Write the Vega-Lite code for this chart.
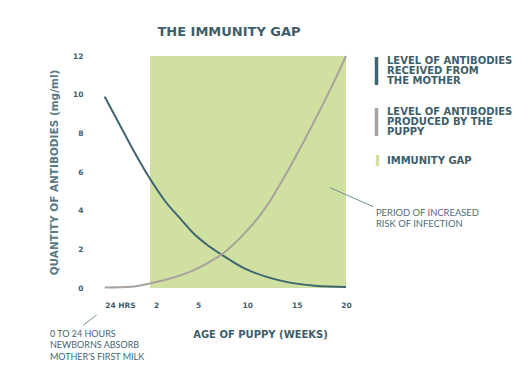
{
  "$schema": "https://vega.github.io/schema/vega-lite/v6.json",
  "width": 250,
  "height": 232,
  "autosize": {"type": "none"},
  "padding": {"left": 100, "top": 56, "right": 180, "bottom": 88},
  "background": "white",
  "title": {
    "text": "THE IMMUNITY GAP",
    "font": "DejaVu Sans",
    "fontSize": 13,
    "fontWeight": "bold",
    "color": "#3e5e69",
    "anchor": "middle",
    "offset": 13,
    "dx": 4
  },
  "config": {
    "view": {"stroke": null},
    "axis": {
      "grid": false,
      "domain": false,
      "ticks": false,
      "labelOverlap": false,
      "labelFont": "DejaVu Sans",
      "labelFontWeight": "bold",
      "labelFontSize": 7.5,
      "labelColor": "#3e5e69",
      "titleFont": "DejaVu Sans",
      "titleFontWeight": "bold",
      "titleFontSize": 10,
      "titleColor": "#5b7a85"
    }
  },
  "datasets": {
    "curves": [
      {"series": "mother", "weeks": 0.14, "antibodies": 9.9},
      {"series": "mother", "weeks": 0.69, "antibodies": 8.6},
      {"series": "mother", "weeks": 1.22, "antibodies": 7.35},
      {"series": "mother", "weeks": 2.0, "antibodies": 5.65},
      {"series": "mother", "weeks": 2.94, "antibodies": 4.5},
      {"series": "mother", "weeks": 3.88, "antibodies": 3.6},
      {"series": "mother", "weeks": 4.81, "antibodies": 2.75},
      {"series": "mother", "weeks": 6.01, "antibodies": 2.2},
      {"series": "mother", "weeks": 7.38, "antibodies": 1.73},
      {"series": "mother", "weeks": 9.76, "antibodies": 1.0},
      {"series": "mother", "weeks": 11.79, "antibodies": 0.6},
      {"series": "mother", "weeks": 13.82, "antibodies": 0.33},
      {"series": "mother", "weeks": 16.86, "antibodies": 0.12},
      {"series": "mother", "weeks": 20.0, "antibodies": 0.05},
      {"series": "puppy", "weeks": 0.14, "antibodies": 0.02},
      {"series": "puppy", "weeks": 1.22, "antibodies": 0.06},
      {"series": "puppy", "weeks": 2.06, "antibodies": 0.25},
      {"series": "puppy", "weeks": 3.31, "antibodies": 0.5},
      {"series": "puppy", "weeks": 4.81, "antibodies": 0.95},
      {"series": "puppy", "weeks": 6.01, "antibodies": 1.3},
      {"series": "puppy", "weeks": 7.38, "antibodies": 1.73},
      {"series": "puppy", "weeks": 9.76, "antibodies": 2.85},
      {"series": "puppy", "weeks": 11.49, "antibodies": 3.9},
      {"series": "puppy", "weeks": 12.3, "antibodies": 4.5},
      {"series": "puppy", "weeks": 13.92, "antibodies": 5.9},
      {"series": "puppy", "weeks": 15.64, "antibodies": 7.5},
      {"series": "puppy", "weeks": 17.36, "antibodies": 9.2},
      {"series": "puppy", "weeks": 19.09, "antibodies": 11.0},
      {"series": "puppy", "weeks": 20.0, "antibodies": 12.0}
    ],
    "gap": [
      {"phase": "IMMUNITY GAP", "from_week": 2, "to_week": 20, "low": 0, "high": 12}
    ]
  },
  "layer": [
    {
      "data": {"name": "gap"},
      "mark": {"type": "rect", "clip": false},
      "encoding": {
        "x": {
          "field": "from_week",
          "type": "quantitative",
          "title": "AGE OF PUPPY (WEEKS)",
          "scale": {"domain": [0.14, 2, 5, 20], "range": [4.7, 50, 98, 246], "nice": false, "zero": false},
          "axis": {
            "values": [0.14, 2, 5, 10, 15, 20],
            "tickCount": 12,
            "labelExpr": "datum.value < 1 ? '24 HRS' : datum.label",
            "labelAlign": {"condition": {"test": "datum.value < 1", "value": "left"}, "value": "center"},
            "labelOffset": {"condition": {"test": "datum.value == 2", "value": 6}, "value": 0},
            "labelPadding": 13,
            "titlePadding": 21,
            "titleX": 160,
            "titleColor": "#3e5e69"
          }
        },
        "x2": {"field": "to_week"},
        "y": {
          "field": "low",
          "type": "quantitative",
          "title": "QUANTITY OF ANTIBODIES (mg/ml)",
          "scale": {"domain": [0, 12], "nice": false},
          "axis": {"values": [0, 2, 4, 6, 8, 10, 12], "tickCount": 12, "labelPadding": 17, "titlePadding": 13, "labelOverlap": false, "titleFontSize": 10.5}
        },
        "y2": {"field": "high"},
        "fill": {
          "field": "phase",
          "type": "nominal",
          "scale": {"range": ["#cfe0a1"]},
          "legend": {
            "orient": "none",
            "legendX": 272,
            "legendY": 99,
            "title": null,
            "symbolType": "M-0.3,-1H0.3V1H-0.3Z",
            "symbolSize": 121,
            "symbolStrokeWidth": 0,
            "labelOffset": 4,
            "labelFont": "DejaVu Sans",
            "labelFontWeight": "bold",
            "labelFontSize": 10,
            "labelColor": "#3e5e69",
            "labelLimit": 300
          }
        }
      }
    },
    {
      "data": {"name": "curves"},
      "mark": {"type": "line", "interpolate": "monotone", "strokeWidth": 2, "clip": false},
      "encoding": {
        "x": {
          "field": "weeks",
          "type": "quantitative",
          "title": "AGE OF PUPPY (WEEKS)",
          "scale": {"domain": [0.14, 2, 5, 20], "range": [4.7, 50, 98, 246], "nice": false, "zero": false},
          "axis": {
            "values": [0.14, 2, 5, 10, 15, 20],
            "tickCount": 12,
            "labelExpr": "datum.value < 1 ? '24 HRS' : datum.label",
            "labelAlign": {"condition": {"test": "datum.value < 1", "value": "left"}, "value": "center"},
            "labelOffset": {"condition": {"test": "datum.value == 2", "value": 6}, "value": 0},
            "labelPadding": 13,
            "titlePadding": 21,
            "titleX": 160,
            "titleColor": "#3e5e69"
          }
        },
        "y": {
          "field": "antibodies",
          "type": "quantitative",
          "title": "QUANTITY OF ANTIBODIES (mg/ml)",
          "scale": {"domain": [0, 12], "nice": false},
          "axis": {"values": [0, 2, 4, 6, 8, 10, 12], "tickCount": 12, "labelPadding": 17, "titlePadding": 13, "labelOverlap": false, "titleFontSize": 10.5}
        },
        "stroke": {
          "field": "series",
          "type": "nominal",
          "scale": {"domain": ["mother", "puppy"], "range": ["#3f6670", "#a9a19b"]},
          "legend": {
            "orient": "none",
            "legendX": 260.5,
            "legendY": -1,
            "title": null,
            "symbolType": "M0,-1L0,1",
            "symbolSize": 784,
            "symbolStrokeWidth": 3.5,
            "labelOffset": -5.5,
            "rowPadding": 9,
            "labelExpr": "datum.value == 'mother' ? ['LEVEL OF ANTIBODIES', 'RECEIVED FROM', 'THE MOTHER'] : ['LEVEL OF ANTIBODIES', 'PRODUCED BY THE', 'PUPPY']",
            "labelFont": "DejaVu Sans",
            "labelFontWeight": "bold",
            "labelFontSize": 10,
            "labelColor": "#3e5e69",
            "labelLimit": 300,
            "encode": {"labels": {"update": {"lineHeight": {"value": 10}, "dy": {"value": -10}}}}
          }
        }
      }
    },
    {
      "data": {"values": [{}]},
      "mark": {"type": "rule", "clip": false, "color": "#6f9098", "strokeWidth": 1},
      "encoding": {
        "x": {"datum": 18.38, "type": "quantitative"},
        "x2": {"datum": 22.74},
        "y": {"datum": 5.19, "type": "quantitative"},
        "y2": {"datum": 4.21}
      }
    },
    {
      "data": {"values": [{}]},
      "mark": {"type": "text", "clip": false, "align": "left", "baseline": "top", "font": "Lato", "fontSize": 9.4, "color": "#4e6d77", "lineHeight": 11},
      "encoding": {
        "x": {"datum": 23.04, "type": "quantitative"},
        "y": {"datum": 4.1, "type": "quantitative"},
        "text": {"value": ["PERIOD OF INCREASED", "RISK OF INFECTION"]}
      }
    },
    {
      "data": {"values": [{}]},
      "mark": {"type": "rule", "clip": false, "color": "#6f9098", "strokeWidth": 1},
      "encoding": {
        "x": {"datum": -0.74, "type": "quantitative"},
        "x2": {"datum": -0.19},
        "y": {"datum": -1.92, "type": "quantitative"},
        "y2": {"datum": -1.4}
      }
    },
    {
      "data": {"values": [{}]},
      "mark": {"type": "text", "clip": false, "align": "left", "baseline": "top", "font": "Lato", "fontSize": 9, "color": "#45656f", "lineHeight": 11.5},
      "encoding": {
        "x": {"datum": -2.11, "type": "quantitative"},
        "y": {"datum": -2.17, "type": "quantitative"},
        "text": {"value": ["0 TO 24 HOURS", "NEWBORNS ABSORB", "MOTHER'S FIRST MILK"]}
      }
    }
  ]
}
